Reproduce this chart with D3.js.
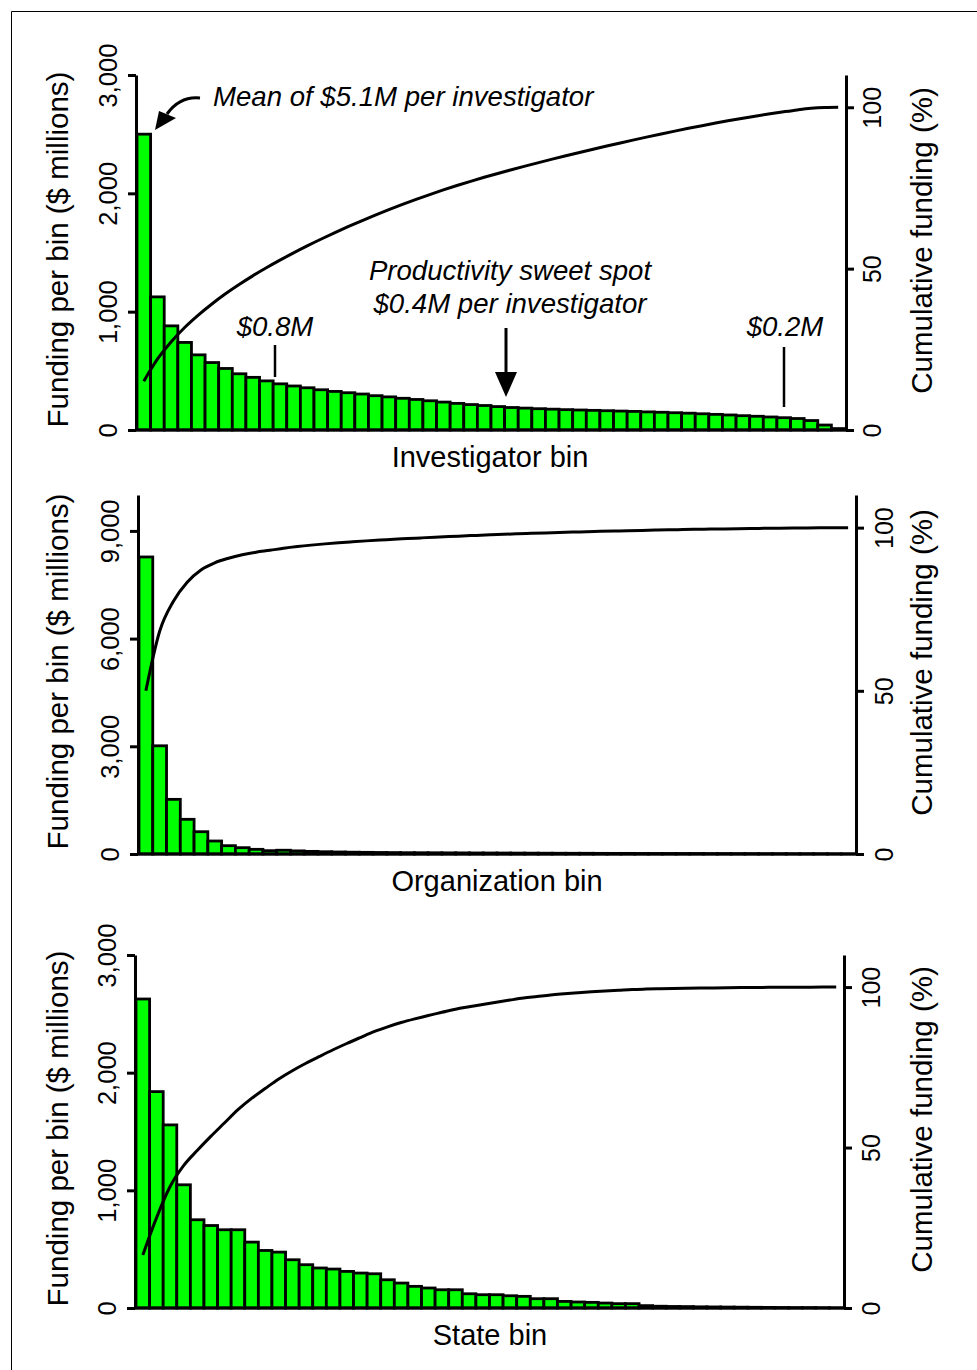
<!DOCTYPE html>
<html><head><meta charset="utf-8">
<script src="https://cdn.jsdelivr.net/npm/d3@7"></script>
<style>
html,body{margin:0;padding:0;background:#fff;}
svg{display:block;font-family:"Liberation Sans",Arial,sans-serif;}
</style></head>
<body>
<svg id="chart" width="977" height="1370"></svg>
<script>
// ---------- DATA ----------
const bins = d3.range(1, 53); // 52 bins
const investigatorFunding = [2500,1125,880,740,635,570,520,475,445,415,390,372,357,340,326,315,304,290,280,268,258,247,236,225,215,207,198,190,185,180,176,172,169,166,163,160,157,153,150,146,142,137,132,127,121,116,110,104,97,80,42,12];
const organizationFunding = [8274,3014,1522,966,621,362,232,176,130,93,105,87,73,63,56,50,46,42,39,36,35,34,32,31,29,28,27,25,24,22,21,20,20,18,17,17,15,14,14,13,13,11,11,10,10,8,8,7,7,6,4,3];
const stateFunding = [2626,1839,1556,1047,750,701,665,665,560,489,475,410,368,340,331,311,297,291,240,212,184,170,155,155,121,113,113,104,99,79,79,56,51,48,42,37,37,20,15,13,12,10,9,8,7,6,5,4,3,3,2,1];
const investigatorTicks = [0,1000,2000,3000];
const organizationTicks = [0,3000,6000,9000];
const stateTicks = [0,1000,2000,3000];
const cumulativeTicks = [0,50,100];
const xTitles = ["Investigator bin","Organization bin","State bin"];
const leftTitle = "Funding per bin ($ millions)";
const rightTitle = "Cumulative funding (%)";

// ---------- LAYOUT ----------
const panels = [
  {data: investigatorFunding, ticks: investigatorTicks, ymax: 3000, left:136, right:846, top:75, bottom:430, xTitleY:457, xTitleX:490, rLab:26},
  {data: organizationFunding, ticks: organizationTicks, ymax: 10000, left:138, right:856, top:495, bottom:854, xTitleY:881, xTitleX:497, rLab:28},
  {data: stateFunding, ticks: stateTicks, ymax: 3000, left:135, right:844, top:955, bottom:1308, xTitleY:1335, xTitleX:490, rLab:27}
];

const svg = d3.select("#chart");
// frame
svg.append("line").attr("x1",11.5).attr("y1",11.5).attr("x2",977).attr("y2",11.5).attr("stroke","#000").attr("stroke-width",1);
svg.append("line").attr("x1",11.5).attr("y1",11.5).attr("x2",11.5).attr("y2",1370).attr("stroke","#000").attr("stroke-width",1);

const fmt = d3.format(",");

panels.forEach((p, pi) => {
  const g = svg.append("g");
  const x = d3.scaleBand().domain(bins).range([p.left + 1, p.right - 1]).padding(0);
  const y = d3.scaleLinear().domain([0, p.ymax]).range([p.bottom, p.top]);
  const yr = d3.scaleLinear().domain([0, 110]).range([p.bottom, p.top]);

  const total = d3.sum(p.data);
  let acc = 0;
  const cum = p.data.map(v => { acc += v; return acc / total * 100; });

  // bars
  g.append("g").selectAll("rect").data(p.data).join("rect")
    .attr("x", (d,i) => x(bins[i]))
    .attr("y", d => y(d))
    .attr("width", x.bandwidth())
    .attr("height", d => p.bottom - y(d))
    .attr("fill", "#00ff00")
    .attr("stroke", "#000")
    .attr("stroke-width", 2.8);

  // baseline
  g.append("line").attr("x1", p.left).attr("x2", p.right).attr("y1", p.bottom).attr("y2", p.bottom)
    .attr("stroke","#000").attr("stroke-width",3);

  // cumulative line
  const line = d3.line()
    .x((d,i) => x(bins[i]) + x.bandwidth()/2)
    .y(d => yr(d))
    .curve(d3.curveMonotoneX);
  g.append("path").datum(cum).attr("d", line)
    .attr("fill","none").attr("stroke","#000").attr("stroke-width",3);

  // left axis
  const la = g.append("g").attr("transform", `translate(${p.left},0)`)
    .call(d3.axisLeft(y).tickValues(p.ticks).tickFormat(fmt).tickSize(8).tickSizeOuter(0));
  la.select(".domain").attr("stroke-width",3);
  la.selectAll(".tick line").attr("stroke-width",3);
  la.selectAll(".tick text")
    .attr("transform","rotate(-90)")
    .attr("x",0).attr("y",-28).attr("dy","0.35em")
    .attr("text-anchor","middle")
    .attr("font-size",25.5).attr("font-family","Liberation Sans, Arial, sans-serif").attr("fill","#000");

  // right axis
  const ra = g.append("g").attr("transform", `translate(${p.right},0)`)
    .call(d3.axisRight(yr).tickValues(cumulativeTicks).tickFormat(d3.format("d")).tickSize(8).tickSizeOuter(0));
  ra.select(".domain").attr("stroke-width",3);
  ra.selectAll(".tick line").attr("stroke-width",3);
  ra.selectAll(".tick text")
    .attr("transform","rotate(-90)")
    .attr("x",0).attr("y",p.rLab).attr("dy","0.35em")
    .attr("text-anchor","middle")
    .attr("font-size",25).attr("font-family","Liberation Sans, Arial, sans-serif").attr("fill","#000");

  // titles
  const midY = (p.top + p.bottom) / 2;
  g.append("text").attr("transform", `translate(58,${midY - 3}) rotate(-90)`)
    .attr("text-anchor","middle").attr("dy","0.35em").attr("font-size",29.5).text(leftTitle);
  g.append("text").attr("transform", `translate(922,${midY - 12}) rotate(-90)`)
    .attr("text-anchor","middle").attr("dy","0.35em").attr("font-size",29.5).text(rightTitle);
  g.append("text").attr("x", p.xTitleX).attr("y", p.xTitleY).attr("dy","0.35em")
    .attr("text-anchor","middle").attr("font-size",29).text(xTitles[pi]);

  if (pi === 0) {
    const ann = g.append("g").attr("font-style","italic").attr("font-size",27.6);
    ann.append("text").attr("x",213).attr("y",106).text("Mean of $5.1M per investigator");
    ann.append("text").attr("x",510).attr("y",280).attr("text-anchor","middle").text("Productivity sweet spot");
    ann.append("text").attr("x",510).attr("y",313).attr("text-anchor","middle").text("$0.4M per investigator");
    ann.append("text").attr("x",275).attr("y",336).attr("text-anchor","middle").text("$0.8M");
    ann.append("text").attr("x",785).attr("y",336).attr("text-anchor","middle").text("$0.2M");
    // curved arrow to first bar
    g.append("path").attr("d","M200,98 Q180,96 167,114").attr("fill","none").attr("stroke","#000").attr("stroke-width",3);
    g.append("path").attr("d","M155,130 L159,111 L176,118 Z").attr("fill","#000");
    // sweet-spot arrow
    g.append("line").attr("x1",506).attr("x2",506).attr("y1",328).attr("y2",375).attr("stroke","#000").attr("stroke-width",3);
    g.append("path").attr("d","M495,372 L517,372 L506,397 Z").attr("fill","#000");
    // marker lines
    g.append("line").attr("x1",275).attr("x2",275).attr("y1",345).attr("y2",377).attr("stroke","#000").attr("stroke-width",2.5);
    g.append("line").attr("x1",784).attr("x2",784).attr("y1",347).attr("y2",407).attr("stroke","#000").attr("stroke-width",2.5);
  }
});
</script>
</body></html>
